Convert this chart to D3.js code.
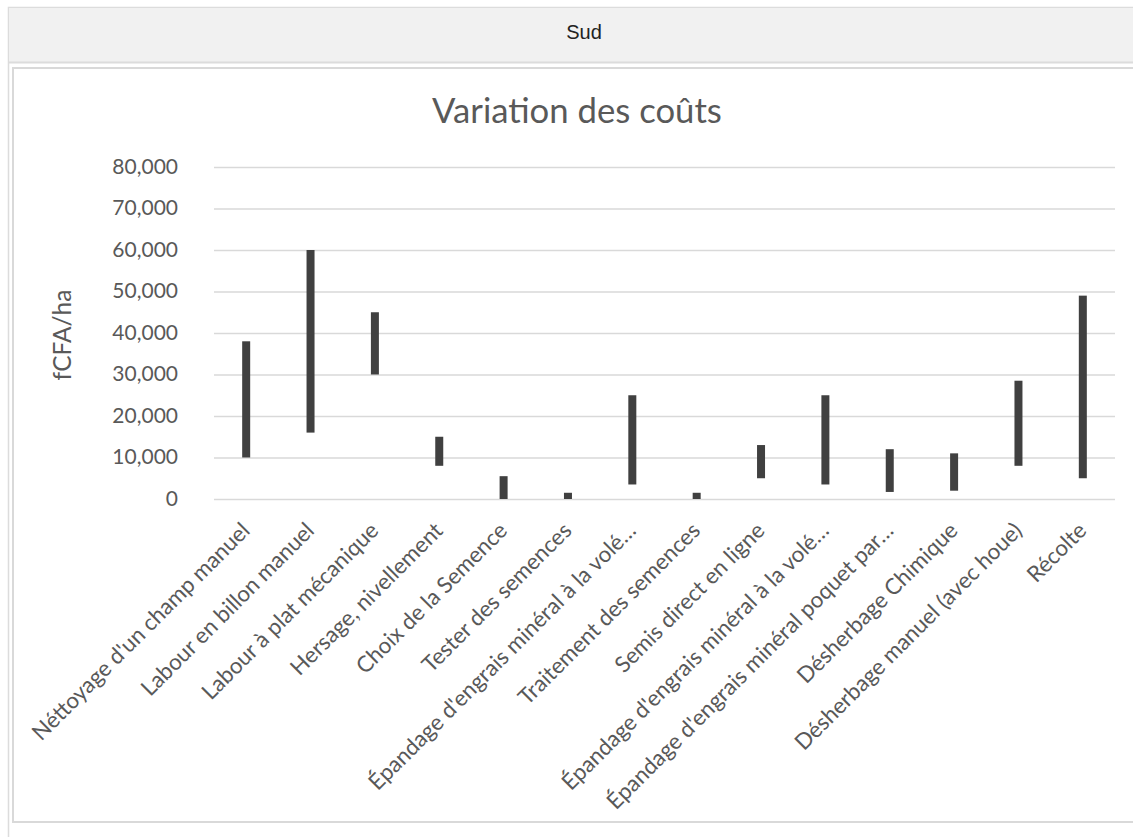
<!DOCTYPE html>
<html><head><meta charset="utf-8">
<script src="https://cdn.jsdelivr.net/npm/d3@7"></script>
<style>body{margin:0;background:#fff;overflow:hidden} svg{display:block}</style>
</head><body><svg id="c" width="1133" height="837"></svg>
<script>
const panelTitle = "Sud";
const chartTitle = "Variation des coûts";
const yAxisTitle = "fCFA/ha";
const categories = [
  "Néttoyage d'un champ manuel",
  "Labour en billon manuel",
  "Labour à plat mécanique",
  "Hersage, nivellement",
  "Choix de la Semence",
  "Tester des semences",
  "Épandage d'engrais minéral à la volé…",
  "Traitement des semences",
  "Semis direct en ligne",
  "Épandage d'engrais minéral à la volé… ",
  "Épandage d'engrais minéral poquet par…",
  "Désherbage Chimique",
  "Désherbage manuel (avec houe)",
  "Récolte"
];
const lowValues  = [10000, 16000, 30000, 8000,    0,    0,  3500,    0,  5000,  3500,  1700,  2000,  8000,  5000];
const highValues = [38000, 60000, 45000, 15000, 5500, 1500, 25000, 1500, 13000, 25000, 12000, 11000, 28500, 49000];
const yTicks = [0, 10000, 20000, 30000, 40000, 50000, 60000, 70000, 80000];

const svg = d3.select("#c");
const font = "Lato, 'Noto Sans', sans-serif";
const textColor = "#595959";

// panel frame
svg.append("rect").attr("x", 8.5).attr("y", 7.5).attr("width", 1200).attr("height", 900)
  .attr("fill", "#fff").attr("stroke", "#dcdcdc").attr("stroke-width", 1.5);
svg.append("rect").attr("x", 9).attr("y", 8).attr("width", 1200).attr("height", 54)
  .attr("fill", "#f1f1f1");
svg.append("line").attr("x1", 9).attr("x2", 1133).attr("y1", 62.5).attr("y2", 62.5)
  .attr("stroke", "#dcdcdc").attr("stroke-width", 2);
svg.append("text").attr("x", 584).attr("y", 39).attr("text-anchor", "middle")
  .attr("font-family", "'Liberation Sans', Arial, sans-serif").attr("font-size", 20)
  .attr("fill", "#222").text(panelTitle);
svg.append("rect").attr("x", 13).attr("y", 68).attr("width", 1200).attr("height", 754)
  .attr("fill", "#fff").attr("stroke", "#d9d9d9").attr("stroke-width", 2);

// scales
const x = d3.scaleBand().domain(categories).range([214, 1115]);
const y = d3.scaleLinear().domain([0, 80000]).range([499, 167]);

// y axis + gridlines
const gy = svg.append("g").attr("transform", "translate(214,0)")
  .call(d3.axisLeft(y).tickValues(yTicks).tickFormat(d3.format(",")).tickSize(-901).tickPadding(36));
gy.select(".domain").remove();
gy.selectAll(".tick line").attr("stroke", "#d9d9d9").attr("stroke-width", 1.5);
gy.selectAll(".tick text").attr("font-family", font).attr("font-size", 21)
  .attr("fill", textColor).attr("dy", "0.3em");

// x axis labels
const gx = svg.append("g").attr("transform", "translate(0,499)")
  .call(d3.axisBottom(x).tickSize(0).tickPadding(0));
gx.select(".domain").remove();
gx.selectAll(".tick text")
  .attr("font-family", font).attr("font-size", 22.3).attr("fill", textColor)
  .attr("text-anchor", "end").attr("y", 0).attr("dy", 0)
  .attr("transform", "translate(5,33) rotate(-45)");

// bars (high-low)
svg.append("g").selectAll("rect").data(categories).join("rect")
  .attr("x", d => x(d) + x.bandwidth() / 2 - 4)
  .attr("width", 8)
  .attr("y", (d, i) => y(highValues[i]))
  .attr("height", (d, i) => y(lowValues[i]) - y(highValues[i]))
  .attr("fill", "#404040");

// titles
svg.append("text").attr("x", 577).attr("y", 123).attr("text-anchor", "middle")
  .attr("font-family", font).attr("font-size", 34.7).attr("fill", textColor).text(chartTitle);
svg.append("text").attr("transform", "translate(71,335) rotate(-90)").attr("text-anchor", "middle")
  .attr("font-family", font).attr("font-size", 24.5).attr("fill", textColor).text(yAxisTitle);
</script></body></html>
